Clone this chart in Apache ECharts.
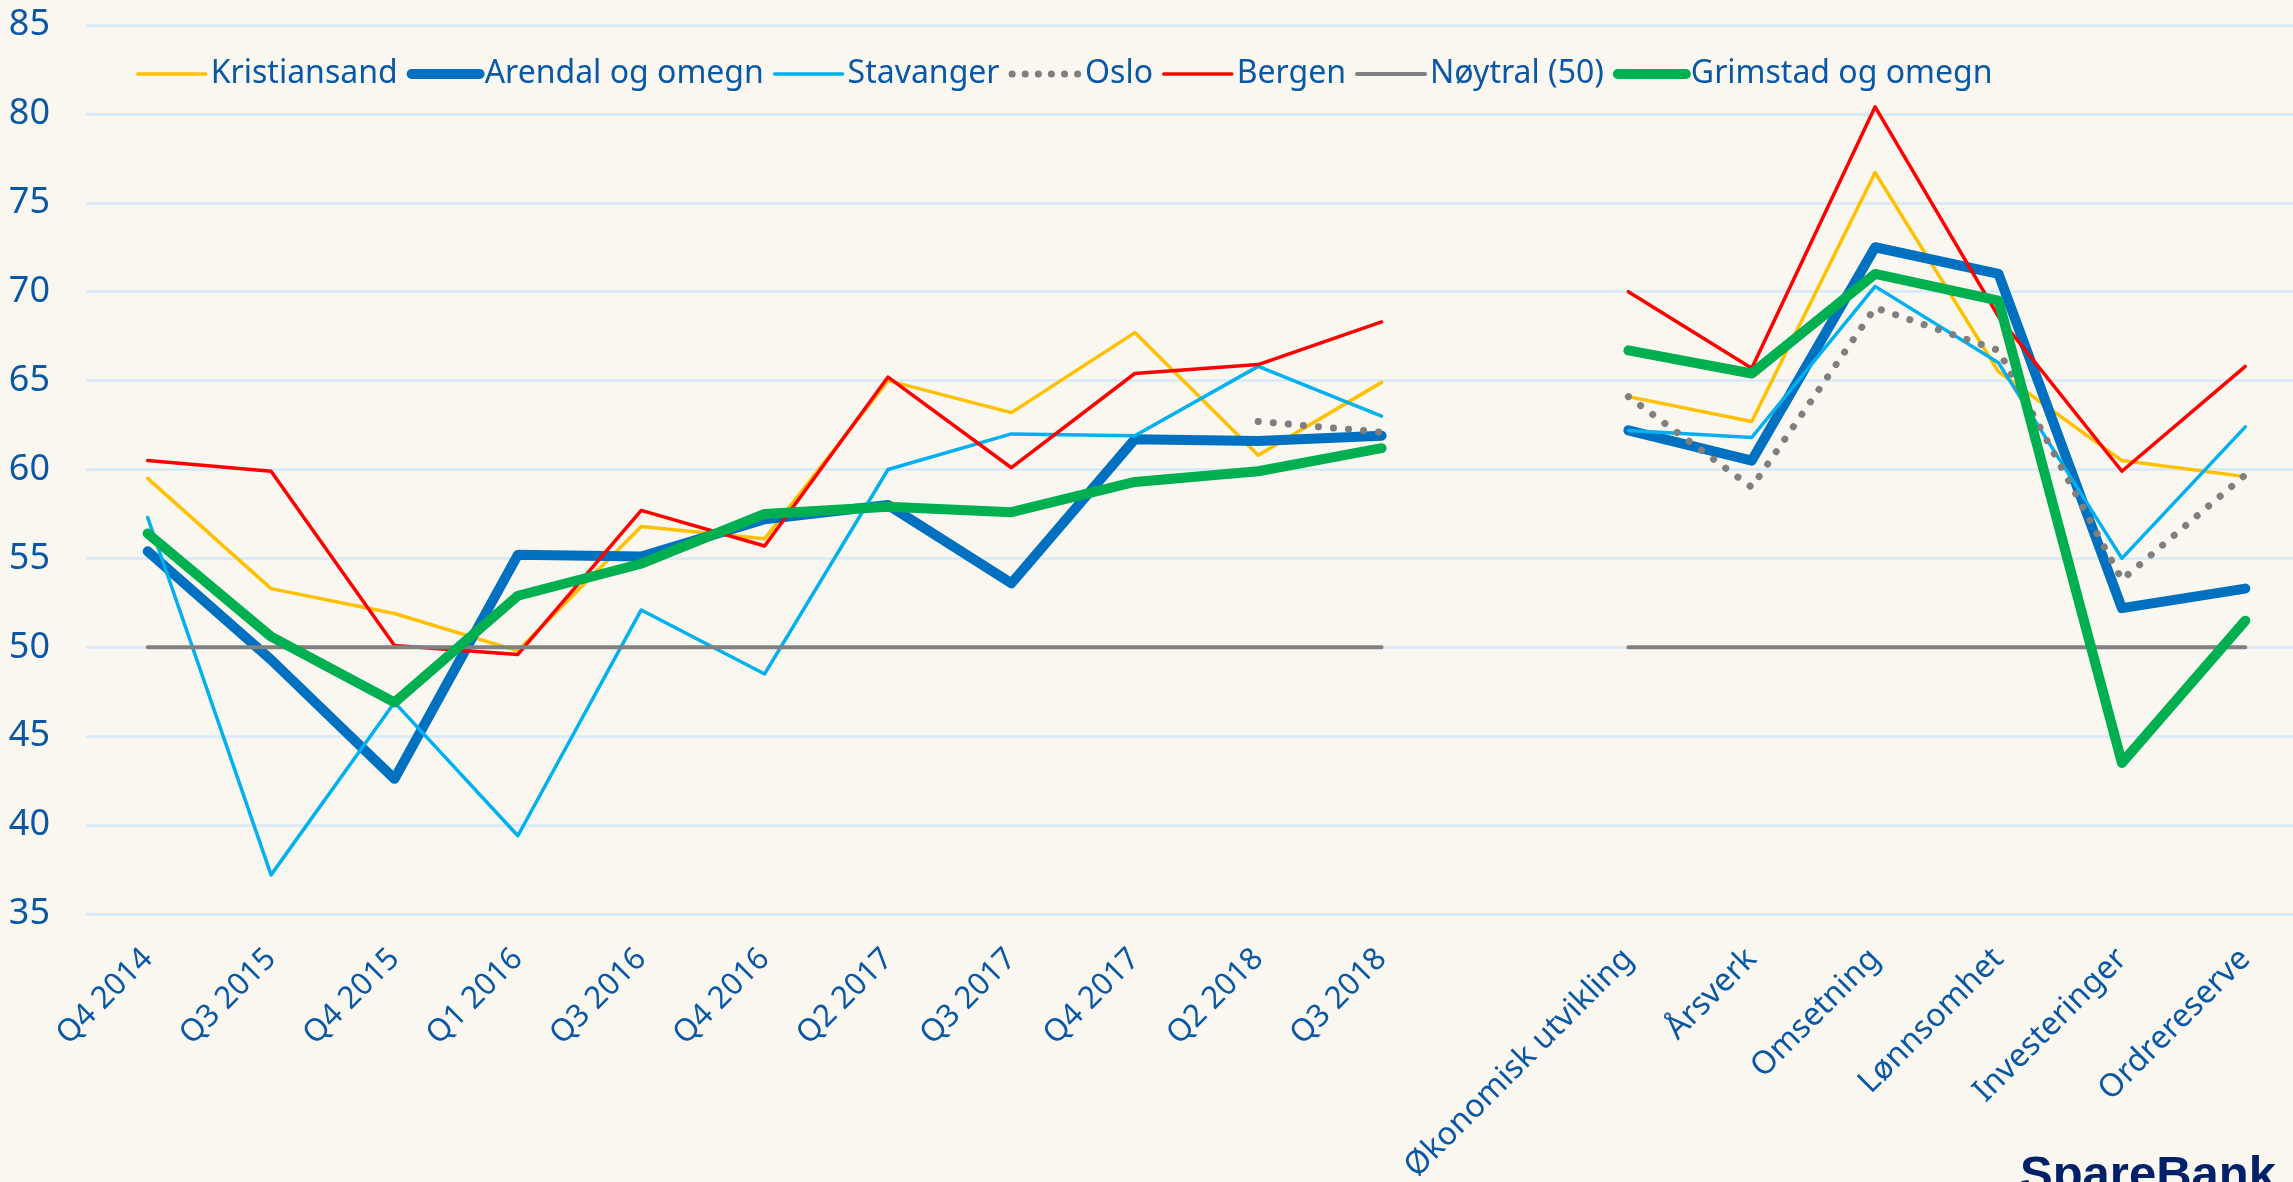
<!DOCTYPE html>
<html>
<head>
<meta charset="utf-8">
<script src="https://cdn.jsdelivr.net/npm/echarts@6/dist/echarts.min.js"></script>
<style>
    html, body { margin: 0; padding: 0; background: #FAF7F0; }
    #main { width: 2293px; height: 1182px; }
</style>
</head>
<body>
<div id="main"></div>
<script>
// categories: 11 quarters, one empty slot, then 6 indicators
const categories = ['Q4 2014', 'Q3 2015', 'Q4 2015', 'Q1 2016', 'Q3 2016', 'Q4 2016', 'Q2 2017', 'Q3 2017', 'Q4 2017', 'Q2 2018', 'Q3 2018', '',
    'Økonomisk utvikling', 'Årsverk', 'Omsetning', 'Lønnsomhet', 'Investeringer', 'Ordrereserve'];

const kristiansand = [59.5, 53.3, 51.9, 49.8, 56.8, 56.1, 65.0, 63.2, 67.7, 60.8, 64.9, null, 64.1, 62.7, 76.7, 65.5, 60.5, 59.6];
const arendal = [55.4, 49.3, 42.6, 55.2, 55.1, 57.2, 58.0, 53.6, 61.7, 61.6, 61.9, null, 62.2, 60.5, 72.5, 71.0, 52.2, 53.3];
const stavanger = [57.3, 37.2, 46.9, 39.4, 52.1, 48.5, 60.0, 62.0, 61.9, 65.8, 63.0, null, 62.2, 61.8, 70.3, 66.0, 55.0, 62.4];
const oslo = [null, null, null, null, null, null, null, null, null, 62.7, 62.1, null, 64.1, 59.0, 69.1, 66.7, 53.8, 59.7];
const bergen = [60.5, 59.9, 50.1, 49.6, 57.7, 55.7, 65.2, 60.1, 65.4, 65.9, 68.3, null, 70.0, 65.7, 80.4, 68.6, 59.9, 65.8];
const noytral = [50, 50, 50, 50, 50, 50, 50, 50, 50, 50, 50, null, 50, 50, 50, 50, 50, 50];
const grimstad = [56.4, 50.6, 46.9, 52.9, 54.7, 57.5, 57.9, 57.6, 59.3, 59.9, 61.2, null, 66.7, 65.4, 71.0, 69.5, 43.5, 51.5];

const yTicks = { min: 35, max: 85, step: 5 };

const textColor = '#0A58A5';
const font = 'Noto Sans';
const dots = [0.1, 15];

function line(name, data, color, width, type) {
    return {
        name: name,
        type: 'line',
        data: data,
        symbol: 'none',
        connectNulls: false,
        silent: true,
        emphasis: { disabled: true },
        lineStyle: {
            color: color,
            width: width,
            type: type || 'solid',
            cap: 'round',
            join: 'round'
        },
        itemStyle: { color: color }
    };
}

// legend entries need their own line widths, legend would use 2px otherwise
function legendItem(name, color, width, type) {
    return {
        name: name,
        itemStyle: { opacity: 0 },
        lineStyle: { color: color, width: width, type: type || 'solid', cap: 'round' }
    };
}

const myChart = echarts.init(document.getElementById('main'));

option = {
    backgroundColor: '#FAF7F0',
    animation: false,
    textStyle: { fontFamily: font },
    grid: {
        left: 86,
        right: -14,
        top: 25,
        bottom: 268,
        containLabel: false,
        outerBoundsMode: 'none'
    },
    legend: {
        left: 131,
        top: 51,
        itemWidth: 68,
        itemHeight: 14,
        itemGap: 9,
        textStyle: {
            color: textColor,
            fontSize: 32,
            fontFamily: font,
            lineHeight: 36
        },
        data: [
            legendItem('Kristiansand', '#FFC000', 3.5),
            legendItem('Arendal og omegn', '#0070C0', 10),
            legendItem('Stavanger', '#00B0F0', 3.5),
            legendItem('Oslo', '#7F7F7F', 7, [0.1, 13]),
            legendItem('Bergen', '#FF0000', 3.5),
            legendItem('Nøytral (50)', '#808080', 4),
            legendItem('Grimstad og omegn', '#00B050', 10)
        ]
    },
    xAxis: {
        type: 'category',
        data: categories,
        boundaryGap: true,
        axisLine: { show: false },
        axisTick: { show: false },
        axisLabel: {
            interval: 0,
            rotate: 45,
            margin: 40,
            color: textColor,
            fontFamily: font,
            formatter: function (value, idx) {
                return idx < 11 ? '{q|' + value + '}' : '{k|' + value + '}';
            },
            rich: {
                q: { fontSize: 31, color: textColor, fontFamily: font },
                k: { fontSize: 32, color: textColor, fontFamily: font }
            }
        }
    },
    yAxis: {
        type: 'value',
        min: yTicks.min,
        max: yTicks.max,
        interval: yTicks.step,
        axisLine: { show: false },
        axisTick: { show: false },
        axisLabel: {
            margin: 36,
            color: textColor,
            fontSize: 36,
            fontFamily: font
        },
        splitLine: {
            lineStyle: { color: '#D6E9F8', width: 2.5 }
        }
    },
    series: [
        line('Kristiansand', kristiansand, '#FFC000', 3.5),
        line('Arendal og omegn', arendal, '#0070C0', 10),
        line('Stavanger', stavanger, '#00B0F0', 3.5),
        line('Oslo', oslo, '#7F7F7F', 7, dots),
        line('Bergen', bergen, '#FF0000', 3.5),
        line('Nøytral (50)', noytral, '#808080', 4),
        line('Grimstad og omegn', grimstad, '#00B050', 10)
    ],
    graphic: [
        {
            type: 'text',
            left: 2020,
            top: 1152,
            silent: true,
            style: {
                text: 'SpareBank',
                fill: '#002169',
                font: 'bold 49px "Liberation Sans", Arial, sans-serif'
            }
        }
    ]
};

myChart.setOption(option);
</script>
</body>
</html>
